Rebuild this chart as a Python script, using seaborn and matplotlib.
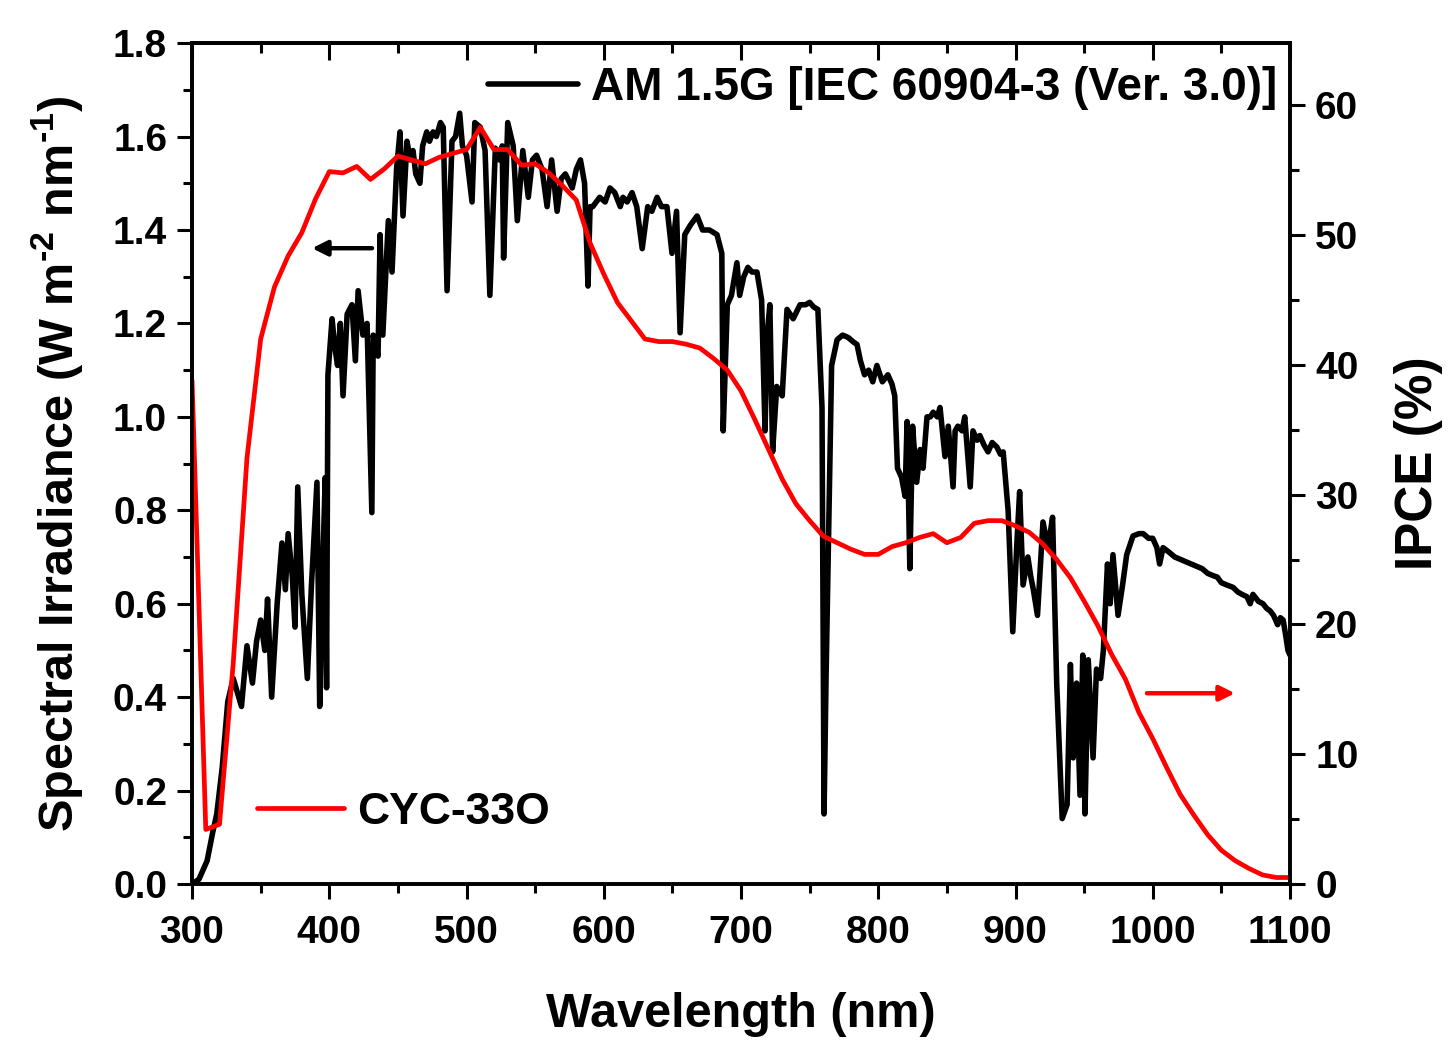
import matplotlib
matplotlib.use("Agg")
import matplotlib.pyplot as plt
import seaborn as sns
from matplotlib.ticker import MultipleLocator

# AM 1.5G spectral irradiance
am_wl = [300, 305, 308, 311, 315, 318, 322, 326, 330, 333, 336, 340, 344, 347, 350, 353, 355, 358,
         362, 365.5, 368, 370, 373, 375, 377, 380, 384, 387, 391, 393, 395, 397, 398, 399, 402, 404,
         406, 408, 410, 413, 416.5, 419, 421, 424.5, 427.5, 431, 432, 435.5, 437, 439, 443, 445.7,
         449, 451.5, 453.7, 456.6, 459, 461, 463, 466, 468, 471, 473, 475.6, 478, 481, 483, 485.8,
         489.4, 492, 495, 497, 500, 504, 506, 510, 513.5, 517, 521, 524, 526, 527, 530, 534, 537,
         541, 545, 548, 551, 555, 558.7, 562, 566, 569, 572, 577, 580, 583, 586, 588.5, 590, 592,
         597, 601, 604.5, 608, 612, 614, 617, 620.6, 624, 628, 632, 635, 638.8, 642, 646, 649.7,
         653, 655.6, 659, 663, 668, 672, 677, 682.5, 686, 687, 690, 693, 697, 699, 702, 705, 708,
         711.6, 715, 717.5, 719, 721, 723, 726, 730, 733.5, 738, 743, 747, 750, 753, 756, 759,
         760.5, 762, 763.5, 766, 770, 774, 778, 782, 784.5, 787, 790, 793, 796, 799, 803, 807,
         810, 812, 814, 817, 819.5, 821, 823, 825, 828, 830.5, 832.6, 835.5, 838, 840, 843, 845,
         848.6, 851, 854.5, 856, 858, 861, 863, 867, 869, 872, 874, 877, 880, 883, 886.5, 889,
         891, 894.6, 898, 901, 903, 905.5, 909, 911, 913, 916, 920, 923.7, 927, 930, 934, 937.6,
         940, 942, 944.5, 947, 949, 950.6, 953, 956.5, 959, 962, 964, 967, 969, 971, 974.7, 978,
         981, 985.6, 990, 993, 997, 1000, 1003, 1005, 1007.5, 1012, 1016, 1020, 1024, 1028, 1032,
         1036, 1040, 1044, 1047, 1050, 1054, 1058.5, 1062, 1065, 1068.6, 1071, 1073, 1077, 1080.3,
         1083, 1085.4, 1088, 1091, 1093, 1095, 1097, 1098.5, 1100]
am_irr = [0.0, 0.01, 0.03, 0.05, 0.11, 0.15, 0.25, 0.39, 0.44, 0.41, 0.38, 0.51, 0.43, 0.52, 0.565, 0.50,
          0.61, 0.40, 0.60, 0.73, 0.63, 0.75, 0.66, 0.55, 0.85, 0.62, 0.44, 0.64, 0.86, 0.38, 0.65,
          0.87, 0.42, 1.09, 1.21, 1.15, 1.11, 1.20, 1.045, 1.22, 1.24, 1.12, 1.27, 1.175, 1.20, 0.795,
          1.175, 1.13, 1.39, 1.175, 1.42, 1.31, 1.53, 1.61, 1.43, 1.59, 1.55, 1.57, 1.52, 1.50, 1.58,
          1.61, 1.59, 1.61, 1.60, 1.63, 1.62, 1.27, 1.59, 1.60, 1.65, 1.58, 1.56, 1.46, 1.63, 1.62,
          1.57, 1.26, 1.575, 1.55, 1.58, 1.34, 1.63, 1.58, 1.42, 1.57, 1.47, 1.55, 1.56, 1.53, 1.45,
          1.55, 1.44, 1.51, 1.52, 1.49, 1.53, 1.55, 1.50, 1.28, 1.45, 1.45, 1.47, 1.46, 1.49, 1.48,
          1.45, 1.47, 1.46, 1.48, 1.45, 1.36, 1.45, 1.44, 1.47, 1.45, 1.45, 1.35, 1.44, 1.18, 1.39,
          1.41, 1.43, 1.40, 1.40, 1.39, 1.35, 0.97, 1.24, 1.26, 1.33, 1.26, 1.30, 1.32, 1.31, 1.31,
          1.25, 0.97, 1.175, 1.24, 0.925, 1.065, 1.045, 1.23, 1.21, 1.24, 1.24, 1.245, 1.235, 1.23,
          1.02, 0.15, 0.45, 0.70, 1.11, 1.165, 1.175, 1.17, 1.16, 1.155, 1.12, 1.09, 1.10, 1.075,
          1.11, 1.075, 1.09, 1.07, 1.045, 0.89, 0.87, 0.83, 0.99, 0.675, 0.98, 0.86, 0.93, 0.89,
          1.0, 1.0, 1.01, 1.0, 1.02, 0.915, 0.98, 0.85, 0.97, 0.98, 0.97, 1.0, 0.85, 0.97, 0.95,
          0.96, 0.94, 0.925, 0.945, 0.935, 0.92, 0.925, 0.80, 0.54, 0.73, 0.84, 0.64, 0.70, 0.66,
          0.63, 0.575, 0.775, 0.72, 0.785, 0.43, 0.14, 0.17, 0.47, 0.27, 0.43, 0.19, 0.49, 0.15,
          0.48, 0.27, 0.46, 0.44, 0.50, 0.685, 0.60, 0.705, 0.575, 0.64, 0.705, 0.745, 0.75, 0.75,
          0.74, 0.74, 0.72, 0.685, 0.72, 0.71, 0.70, 0.695, 0.69, 0.685, 0.68, 0.675, 0.665, 0.66,
          0.657, 0.645, 0.64, 0.635, 0.625, 0.62, 0.615, 0.60, 0.62, 0.605, 0.60, 0.59, 0.585,
          0.575, 0.555, 0.57, 0.565, 0.53, 0.50, 0.49]

# IPCE of CYC-33O
ipce_wl = list(range(300, 1101, 10))
ipce = [38.8, 4.2, 4.6, 17.0, 32.8, 42.0, 46.0, 48.4, 50.2, 52.8, 54.9, 54.8, 55.3, 54.3, 55.1,
        56.1, 55.8, 55.5, 56.0, 56.3, 56.6, 58.3, 56.6, 56.6, 55.4, 55.5, 54.8, 53.8, 52.7, 49.4,
        47.0, 44.8, 43.4, 42.0, 41.8, 41.8, 41.6, 41.3, 40.5, 39.6, 38.0, 35.8, 33.5, 31.2, 29.3,
        28.0, 26.8, 26.3, 25.8, 25.4, 25.4, 26.0, 26.3, 26.7, 27.0, 26.3, 26.7, 27.8, 28.0, 28.0,
        27.6, 27.1, 26.2, 25.0, 23.6, 21.8, 19.9, 17.7, 15.8, 13.2, 11.2, 9.0, 6.9, 5.3, 3.8, 2.6,
        1.8, 1.2, 0.7, 0.5, 0.5]

sns.set_style("ticks")
plt.rcParams["font.family"] = ["Liberation Sans", "DejaVu Sans"]
plt.rcParams["font.weight"] = "bold"
plt.rcParams["mathtext.fontset"] = "custom"
plt.rcParams["mathtext.rm"] = "Liberation Sans:bold"
plt.rcParams["mathtext.bf"] = "Liberation Sans:bold"
plt.rcParams["mathtext.default"] = "bf"
for key in ("text.color", "axes.labelcolor", "xtick.color", "ytick.color", "axes.edgecolor"):
    plt.rcParams[key] = "black"

fig = plt.figure(figsize=(14.55, 10.52), dpi=100)
ax = fig.add_axes([0.132, 0.1597, 0.7546, 0.7993])
ax2 = ax.twinx()

sns.lineplot(x=am_wl, y=am_irr, ax=ax, color="black", linewidth=4.0, sort=False,
             label="AM 1.5G [IEC 60904-3 (Ver. 3.0)]")
sns.lineplot(x=ipce_wl, y=ipce, ax=ax2, color="#ff0000", linewidth=3.4, sort=False,
             label="CYC-33O")

ax.set_xlim(300, 1100)
ax.set_ylim(0, 1.8)
ax2.set_ylim(0, 64.8)

ax.xaxis.set_major_locator(MultipleLocator(100))
ax.xaxis.set_minor_locator(MultipleLocator(50))
ax.yaxis.set_major_locator(MultipleLocator(0.2))
ax.yaxis.set_minor_locator(MultipleLocator(0.1))
ax2.yaxis.set_major_locator(MultipleLocator(10))
ax2.yaxis.set_minor_locator(MultipleLocator(5))
ax.yaxis.set_major_formatter(matplotlib.ticker.FormatStrFormatter("%.1f"))

for a in (ax, ax2):
    for s in a.spines.values():
        s.set_visible(True)
        s.set_linewidth(2.6)
        s.set_color("black")
    a.tick_params(which="major", direction="out", length=11, width=2.2, labelsize=28, pad=7)
    a.tick_params(which="minor", direction="out", length=6.5, width=2.2)
ax.tick_params(axis="x", which="major", pad=11)

top = ax.secondary_xaxis("top")
top.xaxis.set_major_locator(MultipleLocator(100))
top.xaxis.set_minor_locator(MultipleLocator(50))
top.tick_params(which="major", direction="in", length=12, width=2.2, labeltop=False)
top.tick_params(which="minor", direction="in", length=7, width=2.2)
top.spines["top"].set_linewidth(2.6)

ax.set_xlabel("Wavelength (nm)", fontsize=35, fontweight="bold", labelpad=30)
ax.set_ylabel(r"Spectral Irradiance (W m$^{\text{-2}}$ nm$^{\text{-1}}$)", fontsize=35,
              fontweight="bold", labelpad=20)
ax2.set_ylabel("IPCE (%)", fontsize=37, fontweight="bold", labelpad=26)

leg1 = ax.legend(loc="center right", bbox_to_anchor=(0.988, 0.9465), frameon=False,
                 fontsize=33, handlelength=1.95, handletextpad=0.28, borderpad=0,
                 borderaxespad=0)
leg2 = ax2.legend(loc="center left", bbox_to_anchor=(0.0592, 0.0856), frameon=False,
                  fontsize=32, handlelength=1.95, handletextpad=0.3, borderpad=0,
                  borderaxespad=0)

# direction arrows
ax.annotate("", xy=(387.4, 1.361), xytext=(431.1, 1.361),
            arrowprops=dict(arrowstyle="-|>,head_length=0.9,head_width=0.45", color="black",
                            lw=3.2, shrinkA=0, shrinkB=0))
ax2.annotate("", xy=(1059.9, 14.7), xytext=(995.8, 14.7),
             arrowprops=dict(arrowstyle="-|>,head_length=0.9,head_width=0.45", color="#ff0000",
                             lw=3.2, shrinkA=0, shrinkB=0))

fig.savefig("out.png", dpi=100)
